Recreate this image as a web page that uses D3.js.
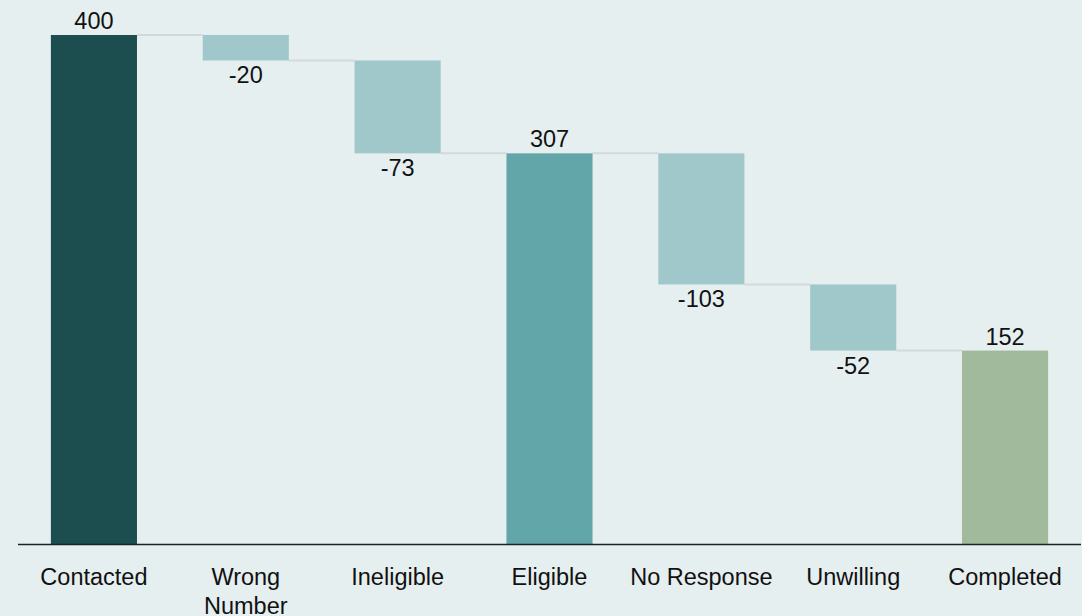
<!DOCTYPE html>
<html><head><meta charset="utf-8">
<script src="https://cdn.jsdelivr.net/npm/d3@7"></script>
<style>
html,body{margin:0;padding:0;background:#e6eff0;}
svg{display:block;font-family:"Liberation Sans",Arial,sans-serif;}
</style></head>
<body>
<svg id="chart" width="1082" height="616"></svg>
<script>
const categories = ["Contacted", "Wrong Number", "Ineligible", "Eligible", "No Response", "Unwilling", "Completed"];
const values = [400, -20, -73, 307, -103, -52, 152];
const kinds = ["start", "delta", "delta", "total", "delta", "delta", "end"];
const colors = {start: "#1c4e50", delta: "#a0c8ca", total: "#62a6aa", end: "#a1ba9b"};

const W = 1082, H = 616;
const baseY = 544, topY = 35;
const svg = d3.select("#chart");

let running = 0;
const bars = categories.map((c, i) => {
  const v = values[i], k = kinds[i];
  let y0, y1;
  if (k === "delta") { y0 = running; y1 = running + v; running = y1; }
  else { y0 = 0; y1 = v; running = v; }
  return {c, v, k, lo: Math.min(y0, y1), hi: Math.max(y0, y1), end: running};
});

const x = d3.scaleBand().domain(categories).range([18, 1081]).paddingInner(0.433).paddingOuter(0.2165);
const y = d3.scaleLinear().domain([0, 400]).range([baseY, topY]);

svg.append("g").selectAll("line").data(bars.slice(0, -1)).join("line")
  .attr("x1", (d) => x(d.c) + x.bandwidth())
  .attr("x2", (d, i) => x(categories[i + 1]))
  .attr("y1", d => y(d.end)).attr("y2", d => y(d.end))
  .attr("stroke", "#d3d9da").attr("stroke-width", 2);

svg.append("g").selectAll("rect").data(bars).join("rect")
  .attr("x", d => x(d.c)).attr("width", x.bandwidth())
  .attr("y", d => y(d.hi)).attr("height", d => y(d.lo) - y(d.hi))
  .attr("fill", d => colors[d.k]);

svg.append("g").selectAll("text").data(bars).join("text")
  .attr("x", d => x(d.c) + x.bandwidth() / 2)
  .attr("y", d => d.v >= 0 ? y(d.hi) - 6 : y(d.lo) + 23)
  .attr("text-anchor", "middle").attr("font-size", 23.5).attr("fill", "#111")
  .text(d => d.v);

const axis = svg.append("g").attr("transform", `translate(0,${baseY})`)
  .call(d3.axisBottom(x).tickSize(0).tickPadding(0));
axis.select(".domain").attr("d", `M18,0.5H1081`).attr("stroke", "#222").attr("stroke-width", 1.5);
axis.selectAll(".tick text").remove();
axis.selectAll(".tick").each(function(d) {
  const t = d3.select(this).append("text").attr("text-anchor", "middle")
    .attr("font-size", 23.5).attr("fill", "#111").attr("font-family", "'Liberation Sans',Arial,sans-serif");
  const lines = d === "Wrong Number" ? ["Wrong", "Number"] : [d];
  lines.forEach((l, i) => t.append("tspan").attr("x", 0).attr("y", 41 + i * 28.5).text(l));
});
</script>
</body></html>
